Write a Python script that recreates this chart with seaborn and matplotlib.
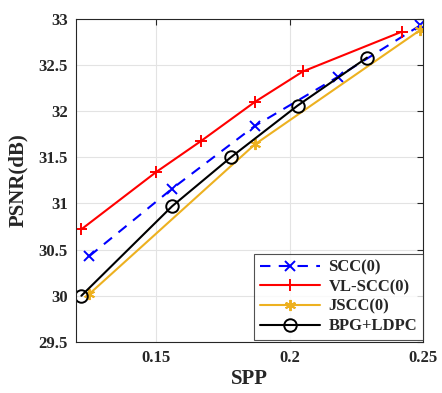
import matplotlib
matplotlib.use("Agg")
import matplotlib.pyplot as plt
import seaborn as sns
import pandas as pd

sns.set_theme(style="white")
plt.rcParams['font.family'] = ['Liberation Serif', 'DejaVu Serif']
plt.rcParams['font.weight'] = 'bold'

scc_x = [0.125, 0.156, 0.187, 0.218, 0.249]
scc_y = [30.43, 31.16, 31.84, 32.37, 32.93]
vl_x = [0.122, 0.150, 0.167, 0.187, 0.205, 0.242]
vl_y = [30.72, 31.34, 31.68, 32.10, 32.43, 32.86]
jscc_x = [0.125, 0.187, 0.249]
jscc_y = [30.02, 31.64, 32.88]
bpg_x = [0.122, 0.156, 0.178, 0.203, 0.229]
bpg_y = [30.00, 30.97, 31.50, 32.06, 32.58]

series = [
    ("SCC(0)", scc_x, scc_y, "#0000FF", "x", (0, (5, 4)), 7),
    ("VL-SCC(0)", vl_x, vl_y, "#FF0000", "+", "-", 9),
    ("JSCC(0)", jscc_x, jscc_y, "#EDB120", (6, 2, 0), "-", 8),
    ("BPG+LDPC", bpg_x, bpg_y, "#000000", "o", "-", 9),
]

fig = plt.figure(figsize=(4.42, 3.93), dpi=100)
ax = fig.add_axes([0.172, 0.130, 0.785, 0.822])

for name, xs, ys, col, mk, ls, ms in series:
    df = pd.DataFrame({"SPP": xs, "PSNR": ys})
    sns.lineplot(data=df, x="SPP", y="PSNR", ax=ax, color=col, marker=mk,
                 linestyle=ls, markersize=ms, markerfacecolor='none',
                 markeredgecolor=col, markeredgewidth=1.4, linewidth=1.5,
                 label=name, estimator=None, sort=False)

ax.set_xlim(0.12, 0.25)
ax.set_ylim(29.5, 33)
ax.set_xticks([0.15, 0.2, 0.25])
ax.set_xticklabels(["0.15", "0.2", "0.25"])
ax.set_yticks([29.5, 30, 30.5, 31, 31.5, 32, 32.5, 33])
ax.set_yticklabels(["29.5", "30", "30.5", "31", "31.5", "32", "32.5", "33"])
ax.grid(True, color="#e3e3e3", linewidth=0.8)
ax.tick_params(direction="in", top=True, right=True, length=4, width=0.8,
               labelsize=12, pad=6)
for lab in ax.get_xticklabels() + ax.get_yticklabels():
    lab.set_fontweight("bold")
for sp in ax.spines.values():
    sp.set_color("#262626")
    sp.set_linewidth(0.8)
ax.set_xlabel("SPP", fontsize=15, fontweight="bold", labelpad=2)
ax.set_ylabel("PSNR(dB)", fontsize=15, fontweight="bold", labelpad=7)

leg = ax.legend(loc="lower right", bbox_to_anchor=(1.0, 0.005), fontsize=12,
                handlelength=3.6, frameon=True, fancybox=False,
                borderpad=0.35, labelspacing=0.22, handletextpad=0.5,
                borderaxespad=0)
leg.get_frame().set_edgecolor("#262626")
leg.get_frame().set_linewidth(0.8)
for t in leg.get_texts():
    t.set_fontweight("bold")

fig.savefig("out.png", dpi=100)
